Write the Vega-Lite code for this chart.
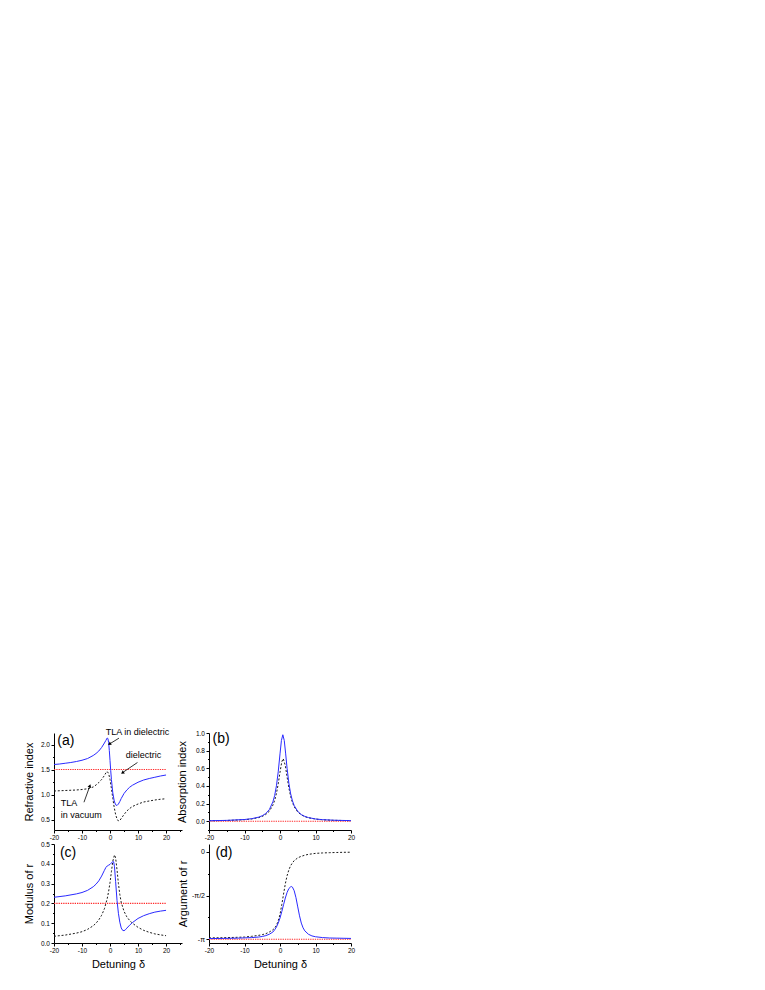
{
  "$schema": "https://vega.github.io/schema/vega-lite/v6.json",
  "background": "white",
  "padding": {"left": 23, "top": 727, "right": 5, "bottom": 5},
  "config": {
    "font": "Liberation Sans",
    "view": {"stroke": null},
    "axis": {"grid": false, "domainColor": "#000", "domainWidth": 1, "tickColor": "#000", "tickWidth": 1, "tickSize": 3,
      "labelFont": "Liberation Sans", "labelFontSize": 6.5, "labelColor": "#000", "labelPadding": 1.5, "labelFlush": false, "labelOverlap": false, "labelBound": false,
      "titleFont": "Liberation Sans", "titleFontSize": 11, "titleFontWeight": "normal", "titleColor": "#000"},
    "text": {"font": "Liberation Sans", "color": "#000"}
  },
  "datasets": {
    "curves": [
      {"p":"a","s":"ref","x":-20,"y":1.5},{"p":"a","s":"ref","x":20,"y":1.5},
      {"p":"a","s":"dash","x":-20,"y":1.07},{"p":"a","s":"dash","x":-16,"y":1.08},{"p":"a","s":"dash","x":-12,"y":1.09},{"p":"a","s":"dash","x":-10,"y":1.10},{"p":"a","s":"dash","x":-8,"y":1.115},{"p":"a","s":"dash","x":-6,"y":1.15},{"p":"a","s":"dash","x":-5,"y":1.19},{"p":"a","s":"dash","x":-4,"y":1.24},{"p":"a","s":"dash","x":-3,"y":1.30},{"p":"a","s":"dash","x":-2,"y":1.38},{"p":"a","s":"dash","x":-1.5,"y":1.43},{"p":"a","s":"dash","x":-1,"y":1.46},{"p":"a","s":"dash","x":-0.5,"y":1.42},{"p":"a","s":"dash","x":0,"y":1.30},{"p":"a","s":"dash","x":0.5,"y":1.12},{"p":"a","s":"dash","x":1,"y":0.92},{"p":"a","s":"dash","x":1.5,"y":0.74},{"p":"a","s":"dash","x":2,"y":0.60},{"p":"a","s":"dash","x":2.5,"y":0.51},{"p":"a","s":"dash","x":3,"y":0.47},{"p":"a","s":"dash","x":3.5,"y":0.48},{"p":"a","s":"dash","x":4,"y":0.52},{"p":"a","s":"dash","x":5,"y":0.60},{"p":"a","s":"dash","x":6,"y":0.67},{"p":"a","s":"dash","x":7,"y":0.72},{"p":"a","s":"dash","x":8,"y":0.76},{"p":"a","s":"dash","x":10,"y":0.81},{"p":"a","s":"dash","x":12,"y":0.85},{"p":"a","s":"dash","x":14,"y":0.87},{"p":"a","s":"dash","x":16,"y":0.89},{"p":"a","s":"dash","x":18,"y":0.905},{"p":"a","s":"dash","x":20,"y":0.915},
      {"p":"a","s":"blue","x":-20,"y":1.60},{"p":"a","s":"blue","x":-18,"y":1.61},{"p":"a","s":"blue","x":-16,"y":1.625},{"p":"a","s":"blue","x":-14,"y":1.64},{"p":"a","s":"blue","x":-12,"y":1.66},{"p":"a","s":"blue","x":-10,"y":1.685},{"p":"a","s":"blue","x":-8,"y":1.72},{"p":"a","s":"blue","x":-6,"y":1.78},{"p":"a","s":"blue","x":-5,"y":1.82},{"p":"a","s":"blue","x":-4,"y":1.87},{"p":"a","s":"blue","x":-3,"y":1.94},{"p":"a","s":"blue","x":-2,"y":2.03},{"p":"a","s":"blue","x":-1.5,"y":2.08},{"p":"a","s":"blue","x":-1,"y":2.13},{"p":"a","s":"blue","x":-0.75,"y":2.12},{"p":"a","s":"blue","x":-0.5,"y":2.04},{"p":"a","s":"blue","x":-0.25,"y":1.88},{"p":"a","s":"blue","x":0,"y":1.68},{"p":"a","s":"blue","x":0.25,"y":1.48},{"p":"a","s":"blue","x":0.5,"y":1.30},{"p":"a","s":"blue","x":1,"y":1.03},{"p":"a","s":"blue","x":1.5,"y":0.87},{"p":"a","s":"blue","x":2,"y":0.795},{"p":"a","s":"blue","x":2.5,"y":0.78},{"p":"a","s":"blue","x":3,"y":0.81},{"p":"a","s":"blue","x":3.5,"y":0.86},{"p":"a","s":"blue","x":4,"y":0.92},{"p":"a","s":"blue","x":5,"y":1.02},{"p":"a","s":"blue","x":6,"y":1.09},{"p":"a","s":"blue","x":7,"y":1.145},{"p":"a","s":"blue","x":8,"y":1.185},{"p":"a","s":"blue","x":10,"y":1.245},{"p":"a","s":"blue","x":12,"y":1.29},{"p":"a","s":"blue","x":14,"y":1.32},{"p":"a","s":"blue","x":16,"y":1.345},{"p":"a","s":"blue","x":18,"y":1.37},{"p":"a","s":"blue","x":20,"y":1.39},
      {"p":"b","s":"ref","x":-20,"y":0},{"p":"b","s":"ref","x":20,"y":0},
      {"p":"b","s":"dash","x":-20,"y":0.005},{"p":"b","s":"dash","x":-15,"y":0.008},{"p":"b","s":"dash","x":-10,"y":0.017},{"p":"b","s":"dash","x":-8,"y":0.025},{"p":"b","s":"dash","x":-6,"y":0.041},{"p":"b","s":"dash","x":-5,"y":0.054},{"p":"b","s":"dash","x":-4,"y":0.076},{"p":"b","s":"dash","x":-3,"y":0.113},{"p":"b","s":"dash","x":-2,"y":0.182},{"p":"b","s":"dash","x":-1.5,"y":0.237},{"p":"b","s":"dash","x":-1,"y":0.316},{"p":"b","s":"dash","x":-0.5,"y":0.423},{"p":"b","s":"dash","x":0,"y":0.555},{"p":"b","s":"dash","x":0.5,"y":0.673},{"p":"b","s":"dash","x":0.9,"y":0.71},{"p":"b","s":"dash","x":1.5,"y":0.631},{"p":"b","s":"dash","x":2,"y":0.50},{"p":"b","s":"dash","x":2.5,"y":0.377},{"p":"b","s":"dash","x":3,"y":0.281},{"p":"b","s":"dash","x":3.5,"y":0.213},{"p":"b","s":"dash","x":4,"y":0.164},{"p":"b","s":"dash","x":5,"y":0.104},{"p":"b","s":"dash","x":6,"y":0.071},{"p":"b","s":"dash","x":7,"y":0.051},{"p":"b","s":"dash","x":8,"y":0.039},{"p":"b","s":"dash","x":10,"y":0.024},{"p":"b","s":"dash","x":12,"y":0.016},{"p":"b","s":"dash","x":15,"y":0.010},{"p":"b","s":"dash","x":20,"y":0.006},
      {"p":"b","s":"blue","x":-20,"y":0.005},{"p":"b","s":"blue","x":-15,"y":0.009},{"p":"b","s":"blue","x":-10,"y":0.019},{"p":"b","s":"blue","x":-8,"y":0.028},{"p":"b","s":"blue","x":-6,"y":0.046},{"p":"b","s":"blue","x":-5,"y":0.062},{"p":"b","s":"blue","x":-4,"y":0.087},{"p":"b","s":"blue","x":-3,"y":0.132},{"p":"b","s":"blue","x":-2,"y":0.219},{"p":"b","s":"blue","x":-1.5,"y":0.292},{"p":"b","s":"blue","x":-1,"y":0.402},{"p":"b","s":"blue","x":-0.5,"y":0.56},{"p":"b","s":"blue","x":0,"y":0.763},{"p":"b","s":"blue","x":0.4,"y":0.915},{"p":"b","s":"blue","x":0.8,"y":0.98},{"p":"b","s":"blue","x":1.2,"y":0.915},{"p":"b","s":"blue","x":1.6,"y":0.763},{"p":"b","s":"blue","x":2,"y":0.598},{"p":"b","s":"blue","x":2.5,"y":0.429},{"p":"b","s":"blue","x":3,"y":0.311},{"p":"b","s":"blue","x":3.5,"y":0.231},{"p":"b","s":"blue","x":4,"y":0.177},{"p":"b","s":"blue","x":5,"y":0.111},{"p":"b","s":"blue","x":6,"y":0.075},{"p":"b","s":"blue","x":7,"y":0.054},{"p":"b","s":"blue","x":8,"y":0.041},{"p":"b","s":"blue","x":10,"y":0.025},{"p":"b","s":"blue","x":12,"y":0.017},{"p":"b","s":"blue","x":15,"y":0.011},{"p":"b","s":"blue","x":20,"y":0.006},
      {"p":"c","s":"ref","x":-20,"y":0.2},{"p":"c","s":"ref","x":20,"y":0.2},
      {"p":"c","s":"dash","x":-20,"y":0.034},{"p":"c","s":"dash","x":-16,"y":0.040},{"p":"c","s":"dash","x":-12,"y":0.050},{"p":"c","s":"dash","x":-10,"y":0.057},{"p":"c","s":"dash","x":-8,"y":0.069},{"p":"c","s":"dash","x":-6,"y":0.087},{"p":"c","s":"dash","x":-5,"y":0.10},{"p":"c","s":"dash","x":-4,"y":0.117},{"p":"c","s":"dash","x":-3,"y":0.14},{"p":"c","s":"dash","x":-2,"y":0.173},{"p":"c","s":"dash","x":-1,"y":0.224},{"p":"c","s":"dash","x":-0.5,"y":0.26},{"p":"c","s":"dash","x":0,"y":0.305},{"p":"c","s":"dash","x":0.5,"y":0.36},{"p":"c","s":"dash","x":1,"y":0.413},{"p":"c","s":"dash","x":1.6,"y":0.445},{"p":"c","s":"dash","x":2,"y":0.43},{"p":"c","s":"dash","x":2.5,"y":0.37},{"p":"c","s":"dash","x":3,"y":0.30},{"p":"c","s":"dash","x":3.5,"y":0.245},{"p":"c","s":"dash","x":4,"y":0.205},{"p":"c","s":"dash","x":5,"y":0.16},{"p":"c","s":"dash","x":6,"y":0.132},{"p":"c","s":"dash","x":7,"y":0.114},{"p":"c","s":"dash","x":8,"y":0.100},{"p":"c","s":"dash","x":10,"y":0.079},{"p":"c","s":"dash","x":12,"y":0.064},{"p":"c","s":"dash","x":14,"y":0.054},{"p":"c","s":"dash","x":16,"y":0.046},{"p":"c","s":"dash","x":18,"y":0.041},{"p":"c","s":"dash","x":20,"y":0.037},
      {"p":"c","s":"blue","x":-20,"y":0.231},{"p":"c","s":"blue","x":-16,"y":0.238},{"p":"c","s":"blue","x":-12,"y":0.248},{"p":"c","s":"blue","x":-10,"y":0.255},{"p":"c","s":"blue","x":-8,"y":0.266},{"p":"c","s":"blue","x":-6,"y":0.284},{"p":"c","s":"blue","x":-5,"y":0.297},{"p":"c","s":"blue","x":-4,"y":0.314},{"p":"c","s":"blue","x":-3,"y":0.338},{"p":"c","s":"blue","x":-2,"y":0.367},{"p":"c","s":"blue","x":-1.5,"y":0.381},{"p":"c","s":"blue","x":-1,"y":0.389},{"p":"c","s":"blue","x":-0.5,"y":0.393},{"p":"c","s":"blue","x":0,"y":0.397},{"p":"c","s":"blue","x":0.5,"y":0.404},{"p":"c","s":"blue","x":1,"y":0.412},{"p":"c","s":"blue","x":1.3,"y":0.41},{"p":"c","s":"blue","x":1.6,"y":0.385},{"p":"c","s":"blue","x":2,"y":0.31},{"p":"c","s":"blue","x":2.5,"y":0.215},{"p":"c","s":"blue","x":3,"y":0.15},{"p":"c","s":"blue","x":3.5,"y":0.105},{"p":"c","s":"blue","x":4,"y":0.076},{"p":"c","s":"blue","x":4.5,"y":0.064},{"p":"c","s":"blue","x":5,"y":0.062},{"p":"c","s":"blue","x":5.5,"y":0.067},{"p":"c","s":"blue","x":6,"y":0.075},{"p":"c","s":"blue","x":7,"y":0.09},{"p":"c","s":"blue","x":8,"y":0.103},{"p":"c","s":"blue","x":10,"y":0.124},{"p":"c","s":"blue","x":12,"y":0.138},{"p":"c","s":"blue","x":14,"y":0.148},{"p":"c","s":"blue","x":16,"y":0.156},{"p":"c","s":"blue","x":18,"y":0.161},{"p":"c","s":"blue","x":20,"y":0.165},
      {"p":"d","s":"ref","x":-20,"y":-3.1416},{"p":"d","s":"ref","x":20,"y":-3.1416},
      {"p":"d","s":"dash","x":-20,"y":-3.09},{"p":"d","s":"dash","x":-16,"y":-3.085},{"p":"d","s":"dash","x":-12,"y":-3.07},{"p":"d","s":"dash","x":-10,"y":-3.06},{"p":"d","s":"dash","x":-8,"y":-3.035},{"p":"d","s":"dash","x":-6,"y":-3.00},{"p":"d","s":"dash","x":-5,"y":-2.975},{"p":"d","s":"dash","x":-4,"y":-2.94},{"p":"d","s":"dash","x":-3,"y":-2.88},{"p":"d","s":"dash","x":-2,"y":-2.80},{"p":"d","s":"dash","x":-1.5,"y":-2.74},{"p":"d","s":"dash","x":-1,"y":-2.64},{"p":"d","s":"dash","x":-0.5,"y":-2.48},{"p":"d","s":"dash","x":0,"y":-2.25},{"p":"d","s":"dash","x":0.5,"y":-1.90},{"p":"d","s":"dash","x":1,"y":-1.52},{"p":"d","s":"dash","x":1.5,"y":-1.15},{"p":"d","s":"dash","x":2,"y":-0.86},{"p":"d","s":"dash","x":2.5,"y":-0.65},{"p":"d","s":"dash","x":3,"y":-0.50},{"p":"d","s":"dash","x":3.5,"y":-0.40},{"p":"d","s":"dash","x":4,"y":-0.32},{"p":"d","s":"dash","x":5,"y":-0.22},{"p":"d","s":"dash","x":6,"y":-0.165},{"p":"d","s":"dash","x":7,"y":-0.125},{"p":"d","s":"dash","x":8,"y":-0.095},{"p":"d","s":"dash","x":10,"y":-0.06},{"p":"d","s":"dash","x":12,"y":-0.045},{"p":"d","s":"dash","x":14,"y":-0.035},{"p":"d","s":"dash","x":16,"y":-0.028},{"p":"d","s":"dash","x":18,"y":-0.022},{"p":"d","s":"dash","x":20,"y":-0.018},
      {"p":"d","s":"blue","x":-20,"y":-3.115},{"p":"d","s":"blue","x":-16,"y":-3.11},{"p":"d","s":"blue","x":-12,"y":-3.10},{"p":"d","s":"blue","x":-10,"y":-3.09},{"p":"d","s":"blue","x":-8,"y":-3.08},{"p":"d","s":"blue","x":-6,"y":-3.06},{"p":"d","s":"blue","x":-5,"y":-3.04},{"p":"d","s":"blue","x":-4,"y":-3.01},{"p":"d","s":"blue","x":-3,"y":-2.96},{"p":"d","s":"blue","x":-2,"y":-2.88},{"p":"d","s":"blue","x":-1.5,"y":-2.80},{"p":"d","s":"blue","x":-1,"y":-2.70},{"p":"d","s":"blue","x":-0.5,"y":-2.56},{"p":"d","s":"blue","x":0,"y":-2.38},{"p":"d","s":"blue","x":0.5,"y":-2.15},{"p":"d","s":"blue","x":1,"y":-1.90},{"p":"d","s":"blue","x":1.5,"y":-1.66},{"p":"d","s":"blue","x":2,"y":-1.46},{"p":"d","s":"blue","x":2.5,"y":-1.32},{"p":"d","s":"blue","x":3,"y":-1.26},{"p":"d","s":"blue","x":3.3,"y":-1.25},{"p":"d","s":"blue","x":3.5,"y":-1.27},{"p":"d","s":"blue","x":4,"y":-1.40},{"p":"d","s":"blue","x":4.5,"y":-1.65},{"p":"d","s":"blue","x":5,"y":-1.98},{"p":"d","s":"blue","x":5.5,"y":-2.30},{"p":"d","s":"blue","x":6,"y":-2.56},{"p":"d","s":"blue","x":6.5,"y":-2.73},{"p":"d","s":"blue","x":7,"y":-2.84},{"p":"d","s":"blue","x":8,"y":-2.96},{"p":"d","s":"blue","x":9,"y":-3.02},{"p":"d","s":"blue","x":10,"y":-3.05},{"p":"d","s":"blue","x":12,"y":-3.08},{"p":"d","s":"blue","x":14,"y":-3.095},{"p":"d","s":"blue","x":16,"y":-3.10},{"p":"d","s":"blue","x":18,"y":-3.105},{"p":"d","s":"blue","x":20,"y":-3.11}
    ]
  },
  "columns": 2,
  "align": "each",
  "bounds": "flush",
  "spacing": {"row": 14, "column": 27},
  "concat": [
    {
      "width": 128, "height": 97,
      "encoding": {
        "x": {"field": "x", "type": "quantitative", "scale": {"domain": [-20, 25.7], "nice": false, "zero": false},
          "axis": {"title": null, "values": [-20,-15,-10,-5,0,5,10,15,20,25], "labelExpr": "datum.value % 10 === 0 ? replace(datum.label, '−', '-') : ''",
            "tickSize": {"condition": {"test": "datum.value % 10 === 0", "value": 3}, "value": 1.5}}},
        "y": {"field": "y", "type": "quantitative", "scale": {"domain": [0.29, 2.23], "nice": false, "zero": false},
          "axis": {"title": "Refractive index", "titlePadding": 6, "values": [0.5,0.75,1,1.25,1.5,1.75,2], "format": ".1f",
            "labelExpr": "abs(datum.value*2-round(datum.value*2)) < 0.001 ? datum.label : ''",
            "tickSize": {"condition": {"test": "abs(datum.value*2-round(datum.value*2)) < 0.001", "value": 3}, "value": 1.5}}}
      },
      "layer": [
        {"data": {"name": "curves"}, "transform": [{"filter": "datum.p === 'a' && datum.s === 'ref'"}], "mark": {"type": "line", "color": "#ff2a2a", "strokeWidth": 1.1, "strokeDash": [1.3, 1]}, "encoding": {}},
        {"data": {"name": "curves"}, "transform": [{"filter": "datum.p === 'a' && datum.s === 'dash'"}], "mark": {"type": "line", "color": "#1a1a1a", "strokeWidth": 1, "strokeDash": [2, 1.8]}, "encoding": {}},
        {"data": {"name": "curves"}, "transform": [{"filter": "datum.p === 'a' && datum.s === 'blue'"}], "mark": {"type": "line", "color": "#2a2aff", "strokeWidth": 1}, "encoding": {}},
        {"data": {"values": [{"x": -18.8, "y": 2.074, "t": "(a)"}]}, "mark": {"type": "text", "align": "left", "baseline": "middle", "fontSize": 14}, "encoding": {"text": {"field": "t"}}},
        {"data": {"values": [{"x": -1.5, "y": 2.253, "t": "TLA in dielectric"}, {"x": 5.6, "y": 1.795, "t": "dielectric"}, {"x": -17.6, "y": 0.84, "t": "TLA"}, {"x": -17.6, "y": 0.585, "t": "in vacuum"}]},
          "mark": {"type": "text", "align": "left", "baseline": "middle", "fontSize": 9}, "encoding": {"text": {"field": "t"}}},
        {"data": {"values": [{"x": 3.2, "y": 2.127, "x2": 0.1, "y2": 2.02}, {"x": 9.8, "y": 1.64, "x2": 4.8, "y2": 1.45}, {"x": -9.3, "y": 0.845, "x2": -7.4, "y2": 1.14}]},
          "mark": {"type": "rule", "color": "#000", "strokeWidth": 0.8}, "encoding": {"x2": {"field": "x2"}, "y2": {"field": "y2"}}},
        {"data": {"values": [{"x": -0.05, "y": 2.015}]}, "mark": {"type": "point", "shape": "triangle", "angle": 238, "filled": true, "size": 14, "color": "#000", "opacity": 1}, "encoding": {}},
        {"data": {"values": [{"x": 4.6, "y": 1.44}]}, "mark": {"type": "point", "shape": "triangle", "angle": 235, "filled": true, "size": 14, "color": "#000", "opacity": 1}, "encoding": {}},
        {"data": {"values": [{"x": -7.25, "y": 1.163}]}, "mark": {"type": "point", "shape": "triangle", "angle": 20, "filled": true, "size": 14, "color": "#000", "opacity": 1}, "encoding": {}}
      ]
    },
    {
      "width": 142, "height": 97,
      "encoding": {
        "x": {"field": "x", "type": "quantitative", "scale": {"domain": [-20, 20], "nice": false, "zero": false},
          "axis": {"title": null, "values": [-20,-15,-10,-5,0,5,10,15,20], "labelExpr": "datum.value % 10 === 0 ? replace(datum.label, '−', '-') : ''",
            "tickSize": {"condition": {"test": "datum.value % 10 === 0", "value": 3}, "value": 1.5}}},
        "y": {"field": "y", "type": "quantitative", "scale": {"domain": [-0.1, 1.0], "nice": false, "zero": false},
          "axis": {"title": "Absorption index", "titlePadding": 8, "values": [-0.1,0,0.1,0.2,0.3,0.4,0.5,0.6,0.7,0.8,0.9,1.0], "format": ".1f",
            "labelExpr": "abs(datum.value*5-round(datum.value*5)) < 0.001 ? datum.label : ''",
            "tickSize": {"condition": {"test": "abs(datum.value*5-round(datum.value*5)) < 0.001", "value": 3}, "value": 1.5}}}
      },
      "layer": [
        {"data": {"name": "curves"}, "transform": [{"filter": "datum.p === 'b' && datum.s === 'ref'"}], "mark": {"type": "line", "color": "#ff2a2a", "strokeWidth": 1.1, "strokeDash": [1.3, 1]}, "encoding": {}},
        {"data": {"name": "curves"}, "transform": [{"filter": "datum.p === 'b' && datum.s === 'dash'"}], "mark": {"type": "line", "color": "#1a1a1a", "strokeWidth": 1, "strokeDash": [2, 1.8]}, "encoding": {}},
        {"data": {"name": "curves"}, "transform": [{"filter": "datum.p === 'b' && datum.s === 'blue'"}], "mark": {"type": "line", "color": "#2a2aff", "strokeWidth": 1}, "encoding": {}},
        {"data": {"values": [{"x": -19, "y": 0.929, "t": "(b)"}]}, "mark": {"type": "text", "align": "left", "baseline": "middle", "fontSize": 14}, "encoding": {"text": {"field": "t"}}}
      ]
    },
    {
      "width": 128, "height": 99,
      "encoding": {
        "x": {"field": "x", "type": "quantitative", "scale": {"domain": [-20, 25.7], "nice": false, "zero": false},
          "axis": {"title": "Detuning δ", "titlePadding": 4, "values": [-20,-15,-10,-5,0,5,10,15,20,25], "labelExpr": "datum.value % 10 === 0 ? replace(datum.label, '−', '-') : ''",
            "tickSize": {"condition": {"test": "datum.value % 10 === 0", "value": 3}, "value": 1.5}}},
        "y": {"field": "y", "type": "quantitative", "scale": {"domain": [0, 0.5], "nice": false, "zero": false},
          "axis": {"title": "Modulus of r", "titlePadding": 6, "values": [0,0.05,0.1,0.15,0.2,0.25,0.3,0.35,0.4,0.45,0.5], "format": ".1f",
            "labelExpr": "abs(datum.value*10-round(datum.value*10)) < 0.001 ? datum.label : ''",
            "tickSize": {"condition": {"test": "abs(datum.value*10-round(datum.value*10)) < 0.001", "value": 3}, "value": 1.5}}}
      },
      "layer": [
        {"data": {"name": "curves"}, "transform": [{"filter": "datum.p === 'c' && datum.s === 'ref'"}], "mark": {"type": "line", "color": "#ff2a2a", "strokeWidth": 1.1, "strokeDash": [1.3, 1]}, "encoding": {}},
        {"data": {"name": "curves"}, "transform": [{"filter": "datum.p === 'c' && datum.s === 'dash'"}], "mark": {"type": "line", "color": "#1a1a1a", "strokeWidth": 1, "strokeDash": [2, 1.8]}, "encoding": {}},
        {"data": {"name": "curves"}, "transform": [{"filter": "datum.p === 'c' && datum.s === 'blue'"}], "mark": {"type": "line", "color": "#2a2aff", "strokeWidth": 1}, "encoding": {}},
        {"data": {"values": [{"x": -17.9, "y": 0.455, "t": "(c)"}]}, "mark": {"type": "text", "align": "left", "baseline": "middle", "fontSize": 14}, "encoding": {"text": {"field": "t"}}}
      ]
    },
    {
      "width": 142, "height": 99,
      "encoding": {
        "x": {"field": "x", "type": "quantitative", "scale": {"domain": [-20, 20], "nice": false, "zero": false},
          "axis": {"title": "Detuning δ", "titlePadding": 4, "values": [-20,-15,-10,-5,0,5,10,15,20], "labelExpr": "datum.value % 10 === 0 ? replace(datum.label, '−', '-') : ''",
            "tickSize": {"condition": {"test": "datum.value % 10 === 0", "value": 3}, "value": 1.5}}},
        "y": {"field": "y", "type": "quantitative", "scale": {"domain": [-3.274, 0.276], "nice": false, "zero": false},
          "axis": {"title": "Argument of r", "titlePadding": 3, "labelFontSize": 7, "values": [0,-0.7854,-1.5708,-2.3562,-3.1416],
            "labelExpr": "abs(datum.value) < 0.01 ? '0' : abs(datum.value+1.5708) < 0.01 ? '-π/2' : abs(datum.value+3.1416) < 0.01 ? '-π' : ''",
            "tickSize": {"condition": {"test": "abs(datum.value+0.7854) > 0.01 && abs(datum.value+2.3562) > 0.01", "value": 3}, "value": 1.5}}}
      },
      "layer": [
        {"data": {"name": "curves"}, "transform": [{"filter": "datum.p === 'd' && datum.s === 'ref'"}], "mark": {"type": "line", "color": "#ff2a2a", "strokeWidth": 1.1, "strokeDash": [1.3, 1]}, "encoding": {}},
        {"data": {"name": "curves"}, "transform": [{"filter": "datum.p === 'd' && datum.s === 'dash'"}], "mark": {"type": "line", "color": "#1a1a1a", "strokeWidth": 1, "strokeDash": [2, 1.8]}, "encoding": {}},
        {"data": {"name": "curves"}, "transform": [{"filter": "datum.p === 'd' && datum.s === 'blue'"}], "mark": {"type": "line", "color": "#2a2aff", "strokeWidth": 1}, "encoding": {}},
        {"data": {"values": [{"x": -18.2, "y": -0.06, "t": "(d)"}]}, "mark": {"type": "text", "align": "left", "baseline": "middle", "fontSize": 14}, "encoding": {"text": {"field": "t"}}}
      ]
    }
  ]
}
